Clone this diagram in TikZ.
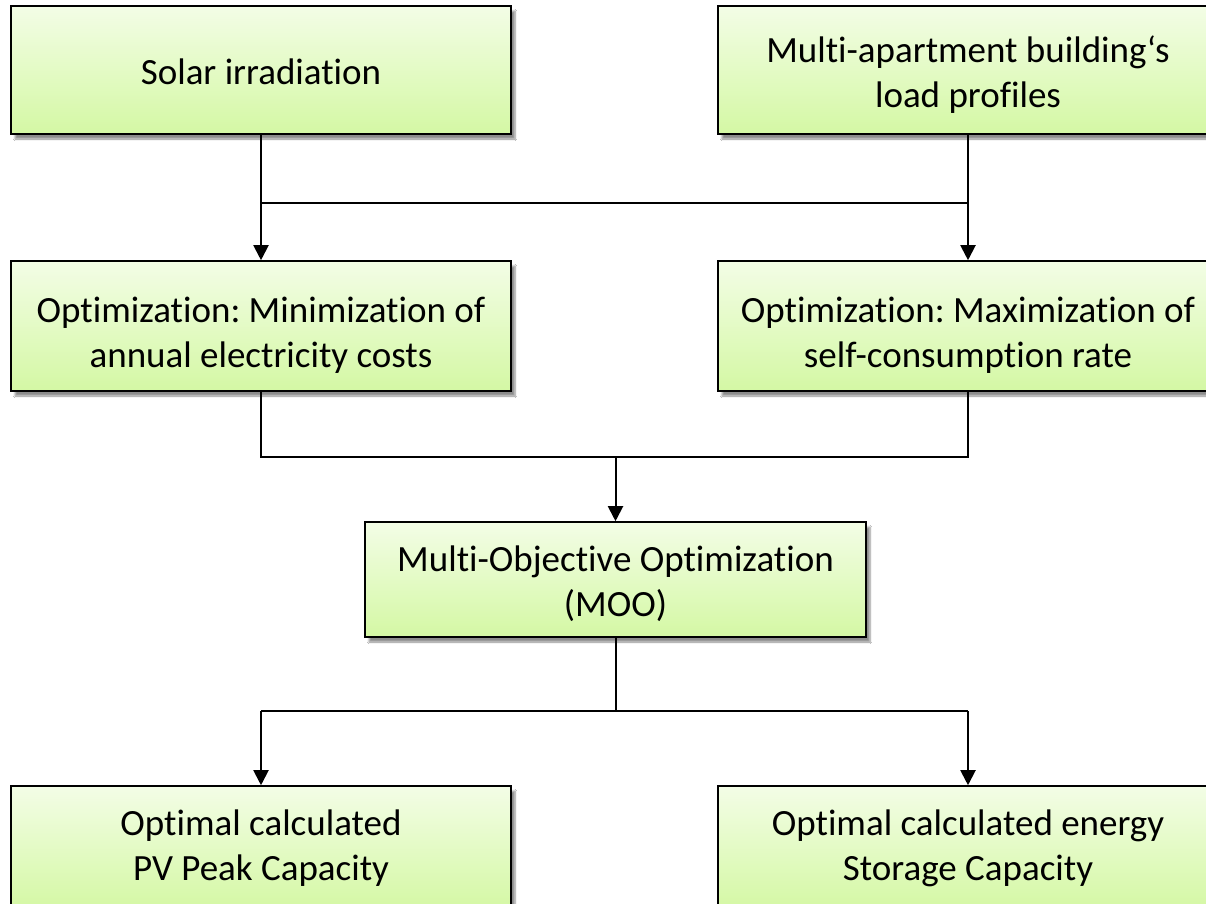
\documentclass[tikz,border=0pt]{standalone}
\usepackage{fontspec}
\setmainfont{Carlito}[Ligatures=NoCommon]
\usetikzlibrary{arrows.meta,shadows.blur}
\definecolor{boxtop}{HTML}{F3FDE6}
\definecolor{boxbot}{HTML}{D4F8A4}
\newcommand\lowertext[1]{\rule{0pt}{\dimexpr\fontcharht\font`l+#1*2\relax}}
\tikzset{
  flowbox/.style={draw=black, line width=1.6pt, top color=boxtop, bottom color=boxbot,
    shading angle=0, align=center, inner sep=0pt, font=\frenchspacing\fontsize{37}{45}\selectfont,
    minimum width=500pt,
    blur shadow={shadow xshift=4pt, shadow yshift=-5pt, shadow blur steps=6, shadow opacity=45}},
  conn/.style={line width=2pt, draw=black},
  arr/.style={conn, -{Triangle[width=15pt,length=15pt]}}
}
\begin{document}
\begin{tikzpicture}[x=1pt,y=-1pt]
\useasboundingbox (0,0) rectangle (1206,903);
\fill[white] (0,0) rectangle (1206,903);
\node[flowbox, minimum height=128pt] (solar) at (261,70) {\lowertext{2pt}Solar irradiation};
\node[flowbox, minimum height=128pt] (multi) at (968,70) {\lowertext{5pt}Multi-apartment building‘s\\load profiles};
\node[flowbox, minimum height=130pt] (opt1) at (261,326) {\lowertext{9pt}Optimization: Minimization of\\annual electricity costs};
\node[flowbox, minimum height=130pt] (opt2) at (968,326) {\lowertext{9pt}Optimization: Maximization of\\self-consumption rate};
\node[flowbox, minimum width=501pt, minimum height=115pt] (moo) at (615.5,579.5) {\lowertext{4pt}Multi-Objective Optimization\\(MOO)};
\node[flowbox, minimum height=124pt] (pv) at (261,848) {Optimal calculated\\PV Peak Capacity};
\node[flowbox, minimum height=124pt] (st) at (968,848) {Optimal calculated energy\\Storage Capacity};
% connectors
\coordinate (j1) at (615,203);
\coordinate (j2) at (615,457);
\coordinate (j3) at (615,711);
\draw[conn] (solar.south) -- (solar.south |- j1) -- (multi.south |- j1) -- (multi.south);
\draw[arr] (solar.south |- j1) -- (opt1.north);
\draw[arr] (multi.south |- j1) -- (opt2.north);
\draw[conn] (opt1.south) -- (opt1.south |- j2) -- (opt2.south |- j2) -- (opt2.south);
\draw[arr] (moo.north |- j2) -- (moo.north);
\draw[conn] (moo.south) -- (moo.south |- j3);
\draw[conn] (pv.north |- j3) -- (st.north |- j3);
\draw[arr] (pv.north |- j3) -- (pv.north);
\draw[arr] (st.north |- j3) -- (st.north);
\end{tikzpicture}
\end{document}
